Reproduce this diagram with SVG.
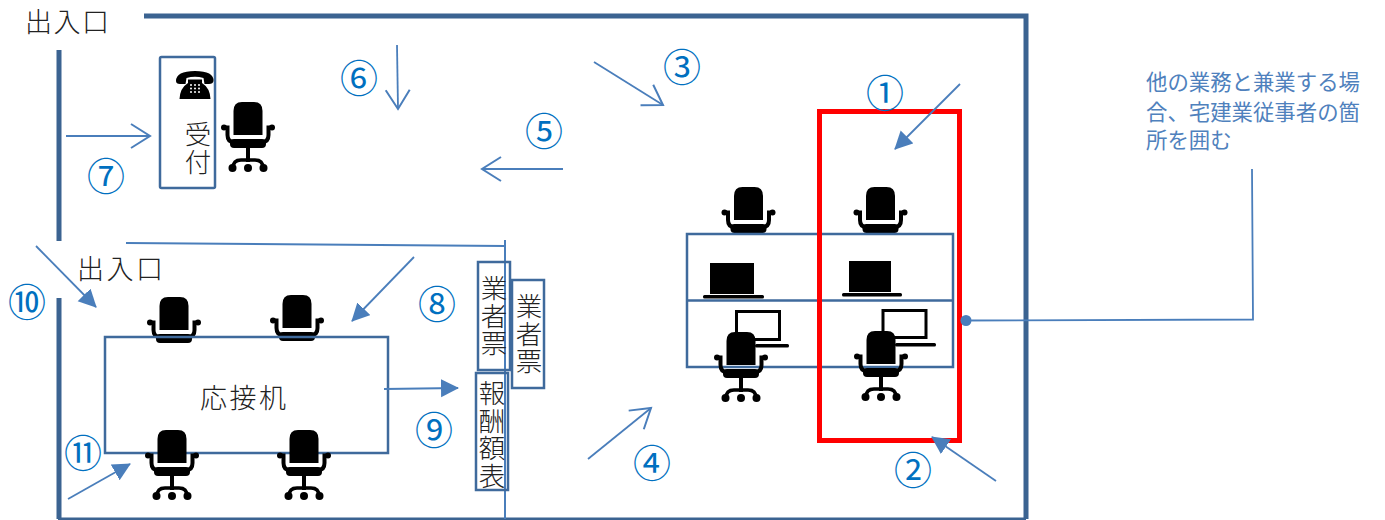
<svg xmlns="http://www.w3.org/2000/svg" width="1385" height="520" viewBox="0 0 1385 520">
<style>
text{font-family:"Noto Sans CJK JP","Noto Sans",sans-serif;fill:#222;font-weight:300}
.lb{font-size:27px}
.v{font-size:26.500px;letter-spacing:1px;writing-mode:vertical-rl;text-anchor:start}
.n{font-size:38px;fill:#0070c0;text-anchor:middle;font-weight:400}
.note{font-size:21.400px;fill:#4f81bd;font-weight:400}
.wall{fill:none;stroke:#3b6391;stroke-width:5}
.box{fill:none;stroke:#3f6a9c;stroke-width:2.500}
.ln{fill:none;stroke:#4a7ebb;stroke-width:2}
.thin{fill:none;stroke:#4a7ebb;stroke-width:1.800}
.k{fill:#000}
</style>
<defs>
<marker id="f" markerUnits="userSpaceOnUse" markerWidth="20" markerHeight="20" refX="17" refY="9" orient="auto"><path d="M0 0L18 9L0 18Z" fill="#4a7ebb"/></marker>
<marker id="o" markerUnits="userSpaceOnUse" markerWidth="24" markerHeight="28" refX="20" refY="14" orient="auto"><path d="M1 2L20 14L1 26" fill="none" stroke="#4a7ebb" stroke-width="2"/></marker>
<g id="chairTop">
<path class="k" d="M-14.500 33V9Q-14.500 0-6 0H6Q14.500 0 14.500 9V33Z"/>
<path d="M-24 25.500H-20.500V33Q-20.500 40-14 40H14Q20.500 40 20.500 33V25.500H24" fill="none" stroke="#000" stroke-width="4"/>
<circle cx="-24" cy="25.500" r="3" class="k"/><circle cx="24" cy="25.500" r="3" class="k"/>
<rect x="-18" y="37" width="36" height="9" rx="4" class="k"/>
</g>
<g id="chair">
<use href="#chairTop"/>
<path d="M0 45V60" fill="none" stroke="#000" stroke-width="4"/>
<path d="M-15 66Q-15 58-7 58H7Q15 58 15 66" fill="none" stroke="#000" stroke-width="3.500"/>
<circle cx="-15.500" cy="66" r="4" class="k"/><circle cx="0" cy="66" r="4" class="k"/><circle cx="15.500" cy="66" r="4" class="k"/>
</g>
</defs>

<g id="walls">
<path class="wall" d="M144 16H1026V519"/>
<path class="wall" d="M59 50V241"/>
<path class="wall" d="M59 298V519"/>
<path d="M58 519H1026" fill="none" stroke="#3b6391" stroke-width="3"/>
</g>

<g id="reception">
<rect class="box" x="160" y="57" width="55" height="131" rx="1.500"/>
<path class="k" d="M176 81Q176 71 195 71Q214 71 213.500 81Q213 84 209 84H204.500L203.500 78Q195 75.500 186.500 78L185.500 84H180Q176 84 176 81Z"/>
<path class="k" d="M188 79.500H202V83Q210 88 210.500 99H179.500Q180 88 188 83Z"/>
<g fill="#fff"><circle cx="191" cy="85" r="1"/><circle cx="195" cy="85" r="1"/><circle cx="199" cy="85" r="1"/><circle cx="191" cy="88.500" r="1"/><circle cx="195" cy="88.500" r="1"/><circle cx="199" cy="88.500" r="1"/><circle cx="191" cy="92" r="1"/><circle cx="195" cy="92" r="1"/><circle cx="199" cy="92" r="1"/></g>
<text class="v" x="198" y="121">受付</text>
<use href="#chair" x="248" y="102"/>
</g>

<g id="entrance-top"><text class="lb" x="25" y="32" textLength="84">出入口</text></g>
<g id="entrance-lower"><text class="lb" x="77" y="279" textLength="86">出入口</text></g>

<g id="meeting-table">
<use href="#chairTop" x="174" y="297"/>
<use href="#chairTop" x="297" y="295"/>
<rect class="box" x="105" y="337" width="283" height="116"/>
<text class="lb" x="243" y="408" text-anchor="middle" textLength="86">応接机</text>
<use href="#chair" x="172" y="430"/>
<use href="#chair" x="304" y="430"/>
</g>

<g id="partition">
<path class="ln" d="M126 243L505 246M505 240V519"/>
</g>

<g id="slip-1"><rect class="box" x="478" y="262" width="32" height="108"/><text class="v" x="494" y="275">業者票</text></g>
<g id="slip-2"><rect class="box" x="512" y="280" width="32" height="108"/><text class="v" x="529" y="293">業者票</text></g>
<g id="slip-3"><rect class="box" x="476" y="373" width="32" height="117"/><text class="v" x="492" y="380">報酬額表</text></g>

<g id="desks">
<use href="#chairTop" x="748.500" y="187"/>
<use href="#chairTop" x="880.500" y="187"/>
<rect class="box" x="687" y="234" width="266" height="133"/>
<path class="box" d="M687 300.500H953"/>
<rect class="k" x="710" y="263" width="44" height="31"/><rect class="k" x="703" y="295" width="61" height="3.500" rx="1.500"/>
<rect class="k" x="849" y="261" width="42" height="31"/><rect class="k" x="842" y="293" width="60" height="3.500" rx="1.500"/>
<rect x="736.500" y="311.500" width="43" height="28" fill="none" stroke="#000" stroke-width="3"/><rect class="k" x="755" y="344" width="34" height="3.500" rx="1.500"/>
<rect x="883" y="310.500" width="43" height="27" fill="none" stroke="#000" stroke-width="3"/><rect class="k" x="895" y="343" width="41" height="3.500" rx="1.500"/>
<use href="#chair" x="741" y="332"/>
<use href="#chair" x="881" y="331"/>
</g>

<g id="highlight"><rect x="819.500" y="111.500" width="140" height="329" fill="none" stroke="#ff0000" stroke-width="5"/></g>

<g id="connectors">
<path class="thin" d="M960 84L895 149" marker-end="url(#f)"/>
<path class="thin" d="M996 481L932 437" marker-end="url(#f)"/>
<path class="thin" d="M594 62L663 105" marker-end="url(#o)"/>
<path class="thin" d="M588 459L651 408" marker-end="url(#o)"/>
<path class="thin" d="M563 169H482" marker-end="url(#o)"/>
<path class="thin" d="M397 45L398 109" marker-end="url(#o)"/>
<path class="thin" d="M66 136H150" marker-end="url(#o)"/>
<path class="thin" d="M414 257L352 321" marker-end="url(#f)"/>
<path class="thin" d="M384 389L458 388" marker-end="url(#f)"/>
<path class="thin" d="M36 246L96 307" marker-end="url(#f)"/>
<path class="thin" d="M68 499L130 464" marker-end="url(#f)"/>
<circle cx="966" cy="320.500" r="5.500" fill="#4a7ebb"/>
<path class="thin" d="M966 320.500L1253 319.500L1252 169"/>
</g>

<g id="labels">
<text class="n" x="885" y="107">①</text>
<text class="n" x="913" y="484">②</text>
<text class="n" x="682" y="81">③</text>
<text class="n" x="652" y="477">④</text>
<text class="n" x="544" y="145">⑤</text>
<text class="n" x="359" y="92">⑥</text>
<text class="n" x="106" y="190">⑦</text>
<text class="n" x="437" y="318">⑧</text>
<text class="n" x="434" y="444">⑨</text>
<text class="n" x="27" y="316">⑩</text>
<text class="n" x="83" y="467">⑪</text>
</g>

<g id="note">
<text class="note" x="1146" y="90">他の業務と兼業する場</text>
<text class="note" x="1146" y="120">合、宅建業従事者の箇</text>
<text class="note" x="1146" y="148">所を囲む</text>
</g>
</svg>
